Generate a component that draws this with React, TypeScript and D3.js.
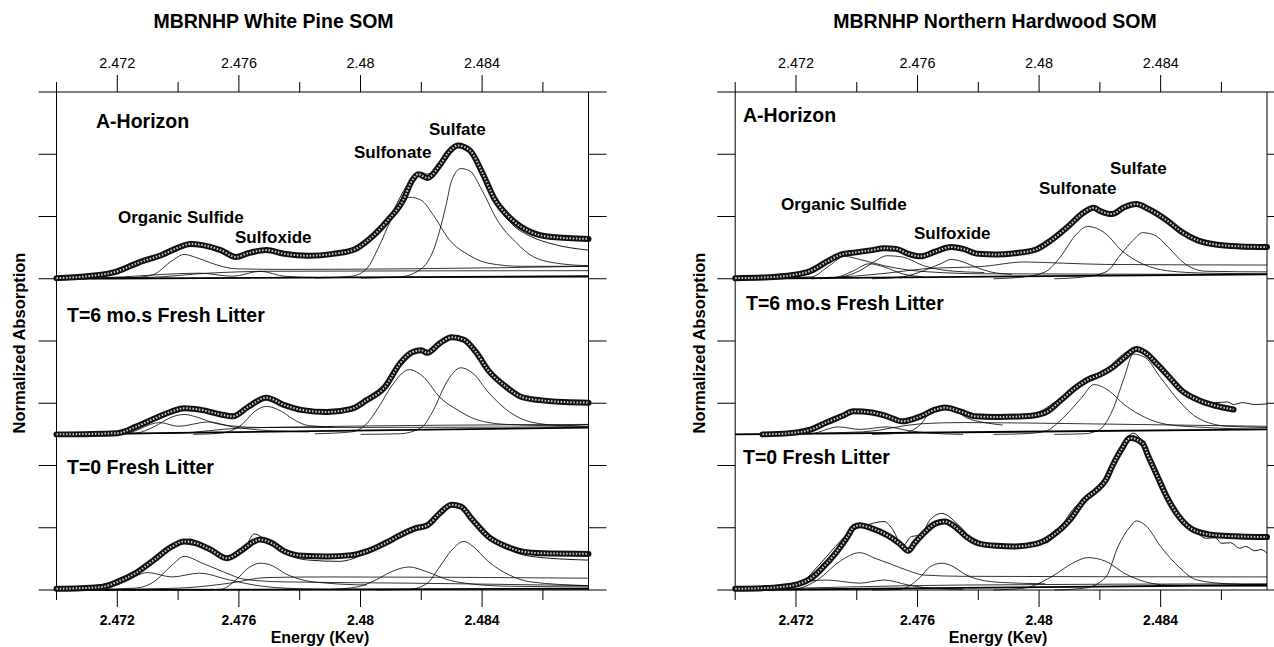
import React, { useRef, useEffect } from "react";
import * as d3 from "d3";

type Pt = [number, number];

// ---- axis / labels ----
const energyMajor = [2.472, 2.476, 2.48, 2.484];
const energyMinor = [2.47, 2.474, 2.478, 2.482, 2.486];
const tickLabels = ["2.472", "2.476", "2.48", "2.484"];
const sampleNames = ["A-Horizon", "T=6 mo.s Fresh Litter", "T=0 Fresh Litter"];
const sampleOffsets = [5, 2.5, 0];
const peakNames = ["Organic Sulfide", "Sulfoxide", "Sulfonate", "Sulfate"];

// ---- White Pine: A-Horizon ----
const wpA_data: Pt[] = [[2.47,0.01],[2.471,0.04],[2.472,0.12],[2.4727,0.26],[2.4735,0.39],[2.474,0.5],[2.4744,0.56],[2.4748,0.54],[2.4754,0.46],[2.4759,0.35],[2.4763,0.41],[2.4769,0.46],[2.4775,0.4],[2.4783,0.37],[2.4791,0.4],[2.4798,0.47],[2.4803,0.64],[2.4809,0.94],[2.4814,1.26],[2.4817,1.58],[2.4819,1.68],[2.4822,1.62],[2.4826,1.82],[2.4829,2.03],[2.4832,2.14],[2.4836,2.06],[2.484,1.71],[2.4844,1.29],[2.485,0.94],[2.4856,0.75],[2.4863,0.67],[2.4875,0.64]];
const wpA_fit: Pt[] = [[2.47,0.01],[2.472,0.14],[2.4735,0.41],[2.4744,0.57],[2.4754,0.44],[2.4759,0.36],[2.4769,0.47],[2.4783,0.39],[2.4798,0.48],[2.4809,0.96],[2.4817,1.61],[2.482,1.71],[2.4822,1.68],[2.4829,2.06],[2.4832,2.17],[2.4836,2.09],[2.484,1.73],[2.4844,1.26],[2.485,0.87],[2.4856,0.68],[2.4863,0.56],[2.4875,0.46]];
const wpA_comps: Pt[][] = [
  [[2.47,0],[2.4726,0.02],[2.4732,0.07],[2.4738,0.29],[2.4742,0.39],[2.4746,0.34],[2.4751,0.25],[2.4759,0.16],[2.4775,0.15],[2.4816,0.16],[2.4875,0.2]],
  [[2.47,0],[2.4722,0.03],[2.4735,0.07],[2.4747,0.09],[2.4758,0.04],[2.4767,0.12],[2.4775,0.04],[2.4786,0.02],[2.4875,0.03]],
  [[2.47,0],[2.473,0.02],[2.475,0.09],[2.477,0.12],[2.4875,0.13]],
  [[2.4785,0.01],[2.4797,0.04],[2.4802,0.16],[2.4806,0.51],[2.481,0.94],[2.4814,1.23],[2.4816,1.31],[2.482,1.26],[2.4824,1.02],[2.4829,0.64],[2.4836,0.37],[2.4842,0.25],[2.4853,0.2],[2.4875,0.2]],
  [[2.48,0.01],[2.4813,0.03],[2.482,0.16],[2.4824,0.46],[2.4828,1.15],[2.483,1.58],[2.4833,1.77],[2.4836,1.73],[2.484,1.42],[2.4845,0.94],[2.4851,0.59],[2.4857,0.35],[2.4866,0.24],[2.4875,0.21]],
];
const wpA_base: Pt[] = [[2.47,0],[2.4875,0.04]];

// ---- White Pine: T=6 ----
const wpT6_data: Pt[] = [[2.47,0],[2.472,0.02],[2.4726,0.12],[2.4732,0.25],[2.4738,0.37],[2.4742,0.42],[2.4748,0.39],[2.4754,0.32],[2.4758,0.29],[2.4763,0.44],[2.4769,0.59],[2.4775,0.47],[2.4781,0.39],[2.4789,0.36],[2.4797,0.41],[2.4802,0.55],[2.4808,0.76],[2.4813,1.14],[2.4817,1.32],[2.482,1.35],[2.4822,1.31],[2.4826,1.46],[2.483,1.56],[2.4834,1.52],[2.4838,1.32],[2.4842,1.03],[2.4848,0.76],[2.4853,0.6],[2.4859,0.55],[2.4867,0.52],[2.4875,0.51]];
const wpT6_comps: Pt[][] = [
  [[2.47,0],[2.4726,0.02],[2.4732,0.12],[2.4738,0.28],[2.4742,0.32],[2.4746,0.28],[2.4752,0.18],[2.4759,0.13],[2.4767,0.11],[2.4875,0.12]],
  [[2.47,0],[2.4722,0.01],[2.4734,0.19],[2.474,0.13],[2.475,0.2],[2.4758,0.12],[2.4767,0.07],[2.4783,0.04]],
  [[2.4745,0],[2.4754,0.02],[2.4761,0.16],[2.4765,0.36],[2.4769,0.45],[2.4774,0.37],[2.4778,0.24],[2.4783,0.14],[2.4791,0.12]],
  [[2.4785,0.01],[2.4797,0.04],[2.4802,0.17],[2.4806,0.44],[2.481,0.76],[2.4816,1.04],[2.4821,0.91],[2.4826,0.6],[2.4832,0.39],[2.4838,0.24],[2.4848,0.16],[2.4875,0.13]],
  [[2.48,0],[2.4813,0.01],[2.482,0.11],[2.4824,0.39],[2.4828,0.81],[2.4833,1.07],[2.4837,0.98],[2.4842,0.68],[2.4849,0.36],[2.4856,0.2],[2.4867,0.14],[2.4875,0.16]],
  [[2.47,0],[2.474,0.02],[2.476,0.1],[2.478,0.12],[2.4875,0.16]],
];
const wpT6_base: Pt[] = [[2.47,0],[2.4875,0.11]];

// ---- White Pine: T=0 ----
const wpT0_data: Pt[] = [[2.47,0.02],[2.4708,0.03],[2.4715,0.05],[2.472,0.13],[2.4726,0.27],[2.4732,0.48],[2.4738,0.7],[2.4742,0.78],[2.4746,0.75],[2.4751,0.64],[2.4756,0.51],[2.4761,0.64],[2.4765,0.78],[2.4767,0.81],[2.4771,0.75],[2.4775,0.62],[2.4781,0.55],[2.4789,0.54],[2.4797,0.56],[2.4802,0.62],[2.4808,0.75],[2.4813,0.88],[2.4818,0.99],[2.4822,1.04],[2.4826,1.23],[2.483,1.37],[2.4833,1.34],[2.4837,1.12],[2.4842,0.86],[2.4848,0.7],[2.4853,0.62],[2.486,0.59],[2.4875,0.58]];
const wpT0_fit: Pt[] = [[2.47,0.02],[2.472,0.14],[2.4732,0.51],[2.4744,0.82],[2.4748,0.72],[2.4756,0.49],[2.4762,0.67],[2.4765,0.9],[2.4769,0.8],[2.4775,0.59],[2.4783,0.48],[2.4793,0.46],[2.4802,0.59],[2.4816,0.94],[2.4822,1.04],[2.483,1.39],[2.4837,1.12],[2.4848,0.67],[2.4856,0.54],[2.4875,0.48]];
const wpT0_comps: Pt[][] = [
  [[2.47,0],[2.4726,0.03],[2.4732,0.13],[2.4738,0.4],[2.4742,0.54],[2.4748,0.43],[2.4755,0.29],[2.4762,0.17],[2.4775,0.13],[2.4816,0.11],[2.4875,0.07]],
  [[2.47,0],[2.4715,0.01],[2.4722,0.12],[2.473,0.28],[2.4738,0.21],[2.4747,0.27],[2.4757,0.16],[2.4765,0.08],[2.4775,0.03],[2.4789,0.01]],
  [[2.4745,0],[2.4754,0.01],[2.4759,0.16],[2.4763,0.35],[2.4767,0.43],[2.4771,0.39],[2.4775,0.27],[2.4781,0.16],[2.4789,0.11],[2.4802,0.08]],
  [[2.47,0],[2.474,0.03],[2.4757,0.11],[2.4769,0.2],[2.4789,0.21],[2.4875,0.19]],
  [[2.479,0.01],[2.4799,0.05],[2.4805,0.16],[2.481,0.29],[2.4816,0.37],[2.4822,0.29],[2.4829,0.16],[2.4836,0.1],[2.4849,0.06],[2.4875,0.05]],
  [[2.4805,0],[2.4816,0.01],[2.4822,0.11],[2.4826,0.37],[2.483,0.64],[2.4834,0.78],[2.4837,0.7],[2.4842,0.46],[2.4849,0.24],[2.4856,0.13],[2.4875,0.07]],
];
const wpT0_base: Pt[] = [[2.47,0],[2.4875,0.02]];

// ---- Northern Hardwood: A-Horizon ----
const nhA_data: Pt[] = [[2.47,0.01],[2.4709,0.02],[2.4719,0.06],[2.4725,0.13],[2.473,0.27],[2.4735,0.39],[2.4739,0.42],[2.4745,0.46],[2.4749,0.49],[2.4753,0.48],[2.4757,0.4],[2.4761,0.36],[2.4766,0.44],[2.4771,0.51],[2.4775,0.48],[2.478,0.4],[2.4786,0.39],[2.4792,0.41],[2.4799,0.47],[2.4804,0.62],[2.481,0.86],[2.4814,1.04],[2.4818,1.14],[2.482,1.09],[2.4824,1.04],[2.4828,1.15],[2.4832,1.2],[2.4836,1.12],[2.4842,0.94],[2.4847,0.75],[2.4852,0.62],[2.4858,0.55],[2.4866,0.52],[2.4875,0.51]];
const nhA_comps: Pt[][] = [
  [[2.47,0],[2.4725,0.03],[2.4731,0.21],[2.4736,0.36],[2.4741,0.31],[2.4749,0.21],[2.4757,0.14],[2.4764,0.11],[2.4782,0.08],[2.4875,0.07]],
  [[2.4728,0],[2.4735,0.03],[2.4741,0.13],[2.4745,0.25],[2.475,0.37],[2.4755,0.35],[2.4762,0.21],[2.477,0.13],[2.4782,0.1]],
  [[2.4725,0],[2.4733,0.02],[2.4739,0.13],[2.4744,0.24],[2.4749,0.19],[2.4755,0.08],[2.4762,0.03]],
  [[2.4745,0],[2.4755,0.03],[2.4762,0.13],[2.4768,0.25],[2.4771,0.31],[2.4775,0.27],[2.4779,0.19],[2.4784,0.11],[2.4791,0.07]],
  [[2.47,0],[2.473,0.02],[2.475,0.09],[2.4762,0.16],[2.4782,0.2],[2.4795,0.27],[2.4808,0.25],[2.4822,0.23],[2.4875,0.22]],
  [[2.4785,0],[2.4795,0.03],[2.4802,0.11],[2.4807,0.35],[2.4812,0.7],[2.4816,0.84],[2.4822,0.72],[2.4827,0.46],[2.4834,0.24],[2.4842,0.13],[2.4855,0.09],[2.4875,0.08]],
  [[2.4805,0],[2.4815,0.03],[2.4822,0.11],[2.4827,0.4],[2.4831,0.62],[2.4834,0.74],[2.4838,0.7],[2.4843,0.48],[2.4848,0.24],[2.4855,0.12],[2.4875,0.11]],
];
const nhA_base: Pt[] = [[2.47,0],[2.4875,0.07]];

// ---- Northern Hardwood: T=6 ----
const nhT6_data: Pt[] = [[2.4709,0],[2.4718,0.02],[2.4725,0.08],[2.473,0.19],[2.4735,0.29],[2.4739,0.37],[2.4745,0.35],[2.475,0.29],[2.4755,0.21],[2.4761,0.29],[2.4766,0.4],[2.4769,0.43],[2.4774,0.37],[2.4779,0.29],[2.4786,0.28],[2.4795,0.29],[2.4802,0.35],[2.4807,0.54],[2.4812,0.75],[2.4816,0.88],[2.482,0.96],[2.4824,1.07],[2.4828,1.23],[2.4832,1.37],[2.4835,1.31],[2.4839,1.12],[2.4843,0.91],[2.4847,0.7],[2.4852,0.56],[2.4858,0.46],[2.4864,0.4]];
const nhT6_fit: Pt[] = [[2.4709,0],[2.4725,0.08],[2.4739,0.38],[2.4755,0.22],[2.4769,0.45],[2.4779,0.3],[2.4795,0.29],[2.4812,0.75],[2.482,0.97],[2.4832,1.38],[2.4843,0.92],[2.4852,0.58],[2.4858,0.51],[2.4862,0.52],[2.4864,0.48],[2.4867,0.51],[2.4871,0.48],[2.4875,0.49]];
const nhT6_comps: Pt[][] = [
  [[2.472,0],[2.4725,0.01],[2.4734,0.12],[2.4741,0.08],[2.475,0.12],[2.4757,0.06],[2.4764,0.02],[2.4775,0]],
  [[2.4745,0],[2.4755,0.02],[2.4761,0.16],[2.4764,0.35],[2.4768,0.44],[2.4772,0.4],[2.4776,0.27],[2.4782,0.19],[2.4788,0.15]],
  [[2.47,0],[2.4742,0.04],[2.4761,0.17],[2.4775,0.19],[2.4815,0.17],[2.4875,0.13]],
  [[2.4785,0],[2.4795,0.01],[2.4802,0.05],[2.4808,0.27],[2.4814,0.59],[2.4818,0.8],[2.4823,0.7],[2.4828,0.48],[2.4835,0.27],[2.4842,0.16],[2.4855,0.11],[2.4875,0.08]],
  [[2.4805,0],[2.4815,0.01],[2.482,0.08],[2.4824,0.37],[2.4828,0.91],[2.4831,1.29],[2.4835,1.23],[2.484,0.91],[2.4846,0.54],[2.4852,0.27],[2.4862,0.13],[2.4875,0.11]],
];
const nhT6_base: Pt[] = [[2.47,0],[2.4875,0.08]];

// ---- Northern Hardwood: T=0 ----
const nhT0_data: Pt[] = [[2.47,0.02],[2.4709,0.03],[2.4715,0.05],[2.4721,0.1],[2.4725,0.19],[2.4729,0.37],[2.4733,0.59],[2.4737,0.86],[2.4739,1.01],[2.4741,1.04],[2.4745,0.99],[2.475,0.88],[2.4754,0.75],[2.4757,0.63],[2.4759,0.75],[2.4762,0.91],[2.4766,1.07],[2.4769,1.1],[2.4772,1.03],[2.4776,0.86],[2.478,0.75],[2.4786,0.71],[2.4792,0.7],[2.4799,0.74],[2.4804,0.86],[2.481,1.12],[2.4815,1.45],[2.4819,1.61],[2.4822,1.77],[2.4824,1.98],[2.4827,2.25],[2.483,2.44],[2.4834,2.36],[2.4836,2.14],[2.4839,1.82],[2.4842,1.5],[2.4846,1.18],[2.4851,0.96],[2.4858,0.88],[2.4866,0.86],[2.4875,0.85]];
const nhT0_fit: Pt[] = [[2.47,0.02],[2.4721,0.11],[2.4727,0.37],[2.4733,0.7],[2.4738,0.94],[2.4742,1.02],[2.4749,1.1],[2.4752,0.96],[2.4755,0.7],[2.4758,0.86],[2.4761,0.88],[2.4764,1.12],[2.4768,1.23],[2.4774,1.02],[2.4779,0.78],[2.4788,0.7],[2.4802,0.75],[2.4812,1.34],[2.4819,1.63],[2.4822,1.71],[2.4827,2.28],[2.4831,2.52],[2.4836,2.2],[2.4846,1.12],[2.4852,0.91],[2.4855,0.83],[2.4858,0.84],[2.486,0.75],[2.4863,0.76],[2.4866,0.67],[2.4868,0.7],[2.4871,0.63],[2.4873,0.65],[2.4875,0.59]];
const nhT0_comps: Pt[][] = [
  [[2.47,0],[2.4719,0.01],[2.4727,0.16],[2.4735,0.48],[2.4741,0.6],[2.4746,0.51],[2.4751,0.42],[2.4757,0.31],[2.4762,0.24],[2.4775,0.22],[2.4875,0.21]],
  [[2.47,0],[2.4709,0.01],[2.4719,0.11],[2.473,0.16],[2.4741,0.11],[2.4749,0.16],[2.4757,0.08],[2.4764,0.03],[2.4775,0.01]],
  [[2.4745,0],[2.4754,0.01],[2.4761,0.21],[2.4764,0.37],[2.4768,0.43],[2.4772,0.37],[2.4775,0.27],[2.478,0.17],[2.4788,0.12],[2.4802,0.1]],
  [[2.47,0],[2.4775,0.08],[2.4875,0.1]],
  [[2.4785,0],[2.4795,0.03],[2.4804,0.21],[2.4811,0.43],[2.4816,0.52],[2.4822,0.46],[2.4828,0.27],[2.4835,0.13],[2.4842,0.08],[2.4875,0.06]],
  [[2.4805,0],[2.4815,0.03],[2.4822,0.21],[2.4826,0.7],[2.483,1.02],[2.4832,1.11],[2.4835,1.04],[2.484,0.7],[2.4846,0.37],[2.4852,0.16],[2.4862,0.1],[2.4875,0.08]],
];
const nhT0_base: Pt[] = [[2.47,0],[2.4875,0.08]];

type Spectrum = { data: Pt[]; fit: Pt[] | null; comps: Pt[][]; base: Pt[] };

const panels = [
  {
    title: "MBRNHP White Pine SOM",
    left: 56.5, right: 588.5, titleX: 273.5, energyX: 320, yLabelX: 19,
    spectra: [
      { data: wpA_data, fit: wpA_fit, comps: wpA_comps, base: wpA_base },
      { data: wpT6_data, fit: null, comps: wpT6_comps, base: wpT6_base },
      { data: wpT0_data, fit: wpT0_fit, comps: wpT0_comps, base: wpT0_base },
    ] as Spectrum[],
    sampleLabelPos: [[96, 128], [67, 322], [67, 474]],
    peakLabelPos: [[118, 223], [235, 243], [354, 158], [429, 135]],
  },
  {
    title: "MBRNHP Northern Hardwood SOM",
    left: 735.2, right: 1267, titleX: 995, energyX: 998, yLabelX: 699,
    spectra: [
      { data: nhA_data, fit: null, comps: nhA_comps, base: nhA_base },
      { data: nhT6_data, fit: nhT6_fit, comps: nhT6_comps, base: nhT6_base },
      { data: nhT0_data, fit: nhT0_fit, comps: nhT0_comps, base: nhT0_base },
    ] as Spectrum[],
    sampleLabelPos: [[743, 122], [746, 310], [743, 464]],
    peakLabelPos: [[781, 210], [914, 239], [1039, 194], [1110, 174]],
  },
];

const FONT = "'Liberation Sans', Arial, Helvetica, sans-serif";

const App = () => {
  const chart = useRef<SVGSVGElement>(null);

  useEffect(() => {
    const svg = d3.select(chart.current);
    svg.selectAll("*").remove();
    svg.append("rect").attr("width", 1274).attr("height", 647).attr("fill", "#fff");

    panels.forEach((p) => {
      const g = svg.append("g");
      const x = d3.scaleLinear().domain([2.47, 2.4875]).range([p.left, p.right]);
      const y = d3.scaleLinear().domain([0, 8]).range([590, 92]);
      const yTop = y(8), yBot = y(0);
      const tk = 18;

      const hline = (yy: number) =>
        g.append("line").attr("x1", p.left - tk).attr("x2", p.right + tk)
          .attr("y1", yy).attr("y2", yy).attr("stroke", "#000").attr("stroke-width", 1);
      hline(yTop);
      hline(yBot);
      [p.left, p.right].forEach((xx) =>
        g.append("line").attr("x1", xx).attr("x2", xx).attr("y1", yTop).attr("y2", yBot)
          .attr("stroke", "#000").attr("stroke-width", 1));

      // y ticks both sides
      d3.range(1, 8).forEach((v) => {
        g.append("line").attr("x1", p.left - tk).attr("x2", p.left).attr("y1", y(v)).attr("y2", y(v)).attr("stroke", "#000");
        g.append("line").attr("x1", p.right).attr("x2", p.right + tk).attr("y1", y(v)).attr("y2", y(v)).attr("stroke", "#000");
      });

      // x ticks top and bottom
      energyMajor.forEach((e, i) => {
        g.append("line").attr("x1", x(e)).attr("x2", x(e)).attr("y1", yTop - 17).attr("y2", yTop).attr("stroke", "#000");
        g.append("line").attr("x1", x(e)).attr("x2", x(e)).attr("y1", yBot).attr("y2", yBot + 17).attr("stroke", "#000");
        g.append("text").attr("x", x(e)).attr("y", yTop - 24).attr("text-anchor", "middle")
          .attr("font-family", FONT).attr("font-size", 14.4).text(tickLabels[i]);
        g.append("text").attr("x", x(e)).attr("y", yBot + 35).attr("text-anchor", "middle")
          .attr("font-family", FONT).attr("font-size", 14).attr("font-weight", "bold").text(tickLabels[i]);
      });
      energyMinor.forEach((e) => {
        g.append("line").attr("x1", x(e)).attr("x2", x(e)).attr("y1", yTop - 10).attr("y2", yTop).attr("stroke", "#000");
        g.append("line").attr("x1", x(e)).attr("x2", x(e)).attr("y1", yBot).attr("y2", yBot + 10).attr("stroke", "#000");
      });

      // spectra
      p.spectra.forEach((s, i) => {
        const off = sampleOffsets[i];
        const line = d3.line<Pt>().x((d) => x(d[0])).y((d) => y(d[1] + off)).curve(d3.curveMonotoneX);
        s.comps.forEach((c) =>
          g.append("path").attr("d", line(c)).attr("fill", "none").attr("stroke", "#000").attr("stroke-width", 0.8));
        g.append("path").attr("d", line(s.base)).attr("fill", "none").attr("stroke", "#000").attr("stroke-width", 1.8);
        if (s.fit)
          g.append("path").attr("d", line(s.fit)).attr("fill", "none").attr("stroke", "#000").attr("stroke-width", 0.9);
        g.append("path").attr("d", line(s.data)).attr("fill", "none").attr("stroke", "#111")
          .attr("stroke-width", 6).attr("stroke-linecap", "round").attr("stroke-linejoin", "round");
        g.append("path").attr("d", line(s.data)).attr("fill", "none").attr("stroke", "#fff")
          .attr("stroke-width", 2).attr("stroke-dasharray", "1.5 1.7").attr("opacity", 0.8);
      });

      // labels
      const bold = (tx: number, ty: number, size: number, t: string, anchor = "start") =>
        g.append("text").attr("x", tx).attr("y", ty).attr("text-anchor", anchor)
          .attr("font-family", FONT).attr("font-size", size).attr("font-weight", "bold").text(t);

      bold(p.titleX, 28, 19.5, p.title, "middle");
      sampleNames.forEach((n, i) => bold(p.sampleLabelPos[i][0], p.sampleLabelPos[i][1], 19.5, n));
      peakNames.forEach((n, i) => bold(p.peakLabelPos[i][0], p.peakLabelPos[i][1], 17, n));
      bold(p.energyX, 643, 16, "Energy (Kev)", "middle");
      g.append("text").attr("transform", `translate(${p.yLabelX + 6},343) rotate(-90)`)
        .attr("text-anchor", "middle").attr("font-family", FONT).attr("font-size", 16.5)
        .attr("font-weight", "bold").text("Normalized Absorption");
    });
  }, []);

  return (
    <div style={{ position: "absolute", left: 0, top: 0 }}>
      <svg ref={chart} width={1274} height={647} style={{ display: "block" }}></svg>
    </div>
  );
};

export default App;
